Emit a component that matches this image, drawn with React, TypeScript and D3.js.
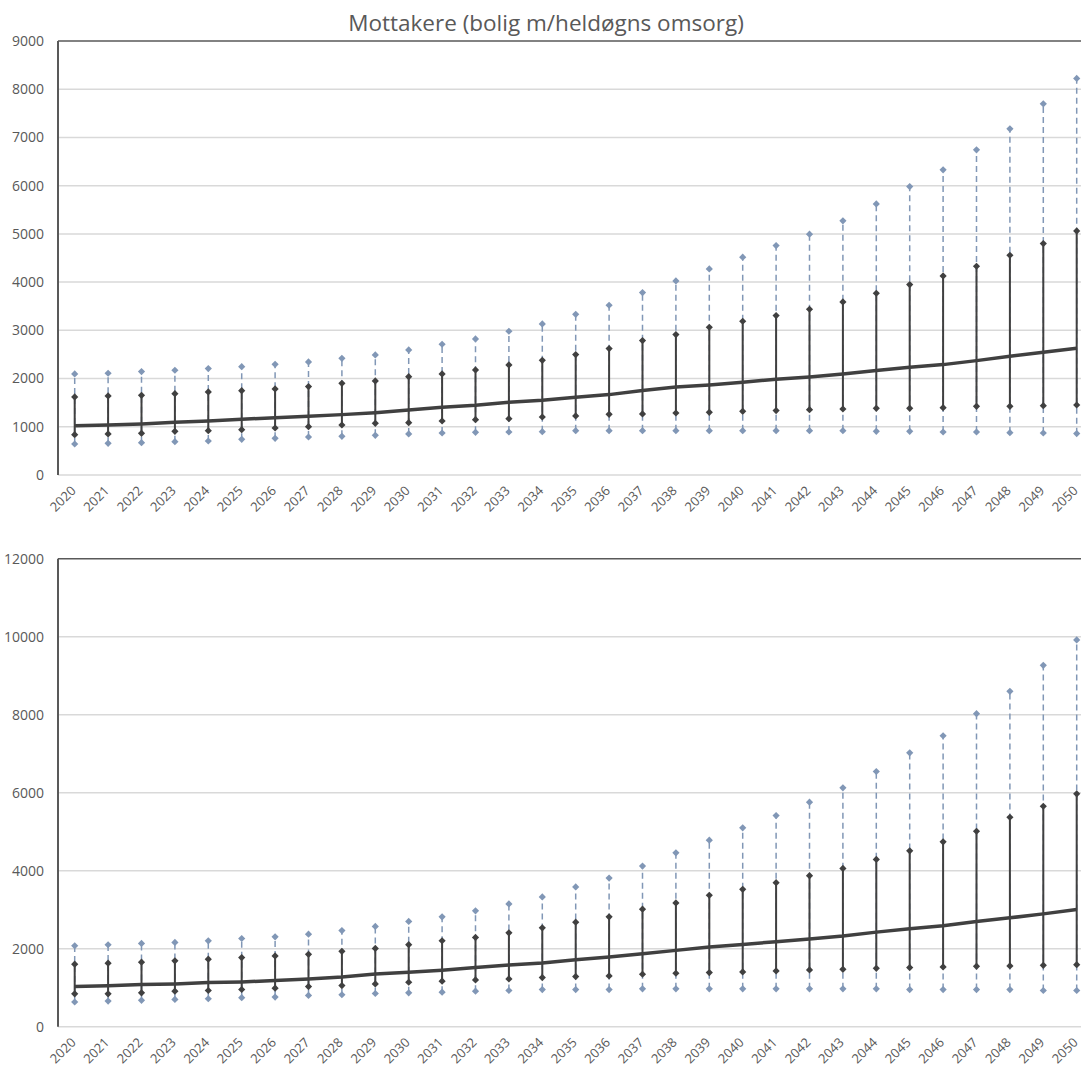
import React, { useRef, useEffect } from 'react';
import * as d3 from 'd3';

const years = [2020, 2021, 2022, 2023, 2024, 2025, 2026, 2027, 2028, 2029, 2030, 2031, 2032, 2033, 2034, 2035, 2036, 2037, 2038, 2039, 2040, 2041, 2042, 2043, 2044, 2045, 2046, 2047, 2048, 2049, 2050];

// top panel
const topOuterHigh = [2095, 2110, 2144, 2172, 2206, 2247, 2296, 2344, 2420, 2490, 2593, 2711, 2822, 2981, 3133, 3333, 3520, 3783, 4025, 4274, 4516, 4758, 4993, 5270, 5622, 5982, 6328, 6743, 7178, 7697, 8223];
const topInnerHigh = [1618, 1639, 1653, 1687, 1722, 1749, 1784, 1833, 1902, 1950, 2040, 2095, 2178, 2282, 2379, 2497, 2621, 2787, 2911, 3064, 3188, 3306, 3437, 3589, 3769, 3949, 4129, 4329, 4557, 4799, 5062];
const topMedian = [1023, 1037, 1060, 1093, 1120, 1155, 1189, 1217, 1252, 1293, 1349, 1404, 1445, 1508, 1549, 1611, 1667, 1750, 1826, 1867, 1923, 1985, 2033, 2095, 2165, 2234, 2289, 2372, 2462, 2545, 2628];
const topInnerLow = [837, 851, 865, 906, 920, 940, 975, 1003, 1037, 1072, 1086, 1120, 1148, 1169, 1203, 1224, 1259, 1266, 1286, 1300, 1321, 1335, 1355, 1369, 1383, 1383, 1397, 1425, 1425, 1438, 1452];
const topOuterLow = [643, 657, 671, 691, 705, 740, 761, 788, 802, 823, 851, 871, 885, 892, 899, 920, 920, 920, 920, 920, 920, 920, 920, 920, 906, 906, 892, 892, 878, 871, 858];
const topTicks = [0, 1000, 2000, 3000, 4000, 5000, 6000, 7000, 8000, 9000];

// bottom panel
const botOuterHigh = [2076, 2101, 2135, 2160, 2203, 2262, 2304, 2372, 2464, 2570, 2698, 2817, 2970, 3149, 3327, 3583, 3812, 4119, 4459, 4783, 5100, 5413, 5756, 6124, 6544, 7023, 7460, 8025, 8599, 9267, 9918];
const botInnerHigh = [1604, 1629, 1654, 1688, 1730, 1772, 1815, 1857, 1933, 2008, 2102, 2204, 2289, 2408, 2536, 2681, 2817, 3013, 3174, 3370, 3523, 3693, 3872, 4059, 4289, 4510, 4740, 5012, 5370, 5653, 5970];
const botMedian = [1030, 1047, 1080, 1097, 1131, 1148, 1182, 1224, 1274, 1353, 1396, 1447, 1515, 1583, 1634, 1719, 1787, 1872, 1957, 2042, 2110, 2179, 2247, 2323, 2425, 2510, 2587, 2698, 2791, 2893, 3004];
const botInnerLow = [844, 844, 869, 911, 928, 954, 987, 1030, 1055, 1098, 1140, 1166, 1200, 1225, 1259, 1285, 1302, 1345, 1370, 1387, 1404, 1430, 1455, 1472, 1498, 1515, 1532, 1549, 1557, 1574, 1591];
const botOuterLow = [633, 658, 675, 700, 717, 743, 760, 802, 819, 851, 868, 885, 911, 928, 953, 953, 953, 970, 970, 970, 970, 970, 970, 970, 970, 953, 953, 953, 953, 928, 928];
const botTicks = [0, 2000, 4000, 6000, 8000, 10000, 12000];

const title = 'Mottakere (bolig m/heldøgns omsorg)';

const W = 1081;
const H = 1068;
const FONT = 'Open Sans, sans-serif';
const TEXT = '#595959';
const DARK = '#404040';
const BLUE = '#8197b6';

function drawPanel(svg, x, { top, bottom, max, ticks, outerHigh, innerHigh, median, innerLow, outerLow }) {
    const left = 58;
    const y = d3.scaleLinear().domain([0, max]).range([bottom, top]);
    const g = svg.append('g');
    const cx = d => x(d) + x.bandwidth() / 2;

    // gridlines
    g.selectAll('.grid')
        .data(ticks.filter(t => t !== max))
        .join('line')
        .attr('x1', left).attr('x2', W)
        .attr('y1', d => y(d)).attr('y2', d => y(d))
        .attr('stroke', '#d9d9d9')
        .attr('stroke-width', 1.5);

    // top border + left axis
    g.append('line')
        .attr('x1', left).attr('x2', W)
        .attr('y1', y(max)).attr('y2', y(max))
        .attr('stroke', '#595959').attr('stroke-width', 1.5);
    g.append('line')
        .attr('x1', left).attr('x2', left)
        .attr('y1', y(max)).attr('y2', y(0))
        .attr('stroke', '#595959').attr('stroke-width', 2);

    // y labels
    g.selectAll('.ylab')
        .data(ticks)
        .join('text')
        .attr('x', 44)
        .attr('y', d => y(d))
        .attr('dy', '0.35em')
        .attr('text-anchor', 'end')
        .attr('font-family', FONT)
        .attr('font-size', 14)
        .attr('fill', TEXT)
        .text(d => d);

    // x labels
    g.selectAll('.xlab')
        .data(years)
        .join('text')
        .attr('transform', d => `translate(${cx(d) - 4.5},${y(0) + 10}) rotate(-45)`)
        .attr('text-anchor', 'end')
        .attr('dy', '0.7em')
        .attr('font-family', FONT)
        .attr('font-size', 13)
        .attr('fill', TEXT)
        .text(d => d);

    const rows = years.map((yr, i) => ({
        yr, oh: outerHigh[i], ih: innerHigh[i], md: median[i], il: innerLow[i], ol: outerLow[i]
    }));

    // outer range, dashed
    g.selectAll('.outer')
        .data(rows)
        .join('line')
        .attr('x1', d => cx(d.yr)).attr('x2', d => cx(d.yr))
        .attr('y1', d => y(d.ol)).attr('y2', d => y(d.oh))
        .attr('stroke', BLUE)
        .attr('stroke-width', 1.5)
        .attr('stroke-dasharray', '6,4');

    // inner range
    g.selectAll('.inner')
        .data(rows)
        .join('line')
        .attr('x1', d => cx(d.yr)).attr('x2', d => cx(d.yr))
        .attr('y1', d => y(d.il)).attr('y2', d => y(d.ih))
        .attr('stroke', DARK)
        .attr('stroke-width', 2);

    // median line
    g.append('path')
        .datum(rows)
        .attr('fill', 'none')
        .attr('stroke', DARK)
        .attr('stroke-width', 3.5)
        .attr('d', d3.line().x(d => cx(d.yr)).y(d => y(d.md)));

    const diamond = d3.symbol(d3.symbolSquare, 26);
    const markers = [
        { key: 'oh', color: BLUE },
        { key: 'ol', color: BLUE },
        { key: 'ih', color: DARK },
        { key: 'il', color: DARK },
    ];
    markers.forEach(m => {
        g.selectAll(`.m-${m.key}`)
            .data(rows)
            .join('path')
            .attr('d', diamond)
            .attr('transform', d => `translate(${cx(d.yr)},${y(d[m.key])}) rotate(45)`)
            .attr('fill', m.color);
    });
}

export default function App() {
    const svgRef = useRef(null);

    useEffect(() => {
        const svg = d3.select(svgRef.current);
        svg.selectAll('*').remove();

        const x = d3.scaleBand()
            .domain(years)
            .range([58, 58 + 31 * 33.4])
            .padding(0);

        svg.append('text')
            .attr('x', 546)
            .attr('y', 31)
            .attr('text-anchor', 'middle')
            .attr('font-family', FONT)
            .attr('font-size', 22.5)
            .attr('fill', TEXT)
            .text(title);

        drawPanel(svg, x, {
            top: 41, bottom: 475, max: 9000, ticks: topTicks,
            outerHigh: topOuterHigh, innerHigh: topInnerHigh, median: topMedian,
            innerLow: topInnerLow, outerLow: topOuterLow,
        });

        drawPanel(svg, x, {
            top: 558.7, bottom: 1026.7, max: 12000, ticks: botTicks,
            outerHigh: botOuterHigh, innerHigh: botInnerHigh, median: botMedian,
            innerLow: botInnerLow, outerLow: botOuterLow,
        });
    }, []);

    return (
        <svg
            ref={svgRef}
            width={W}
            height={H}
            style={{ position: 'absolute', left: 0, top: 0, background: '#fff', overflow: 'hidden' }}
        />
    );
}
